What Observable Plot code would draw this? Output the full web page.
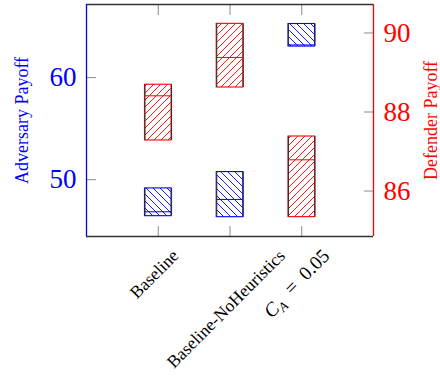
<!DOCTYPE html>
<html>
<head>
<meta charset="utf-8">
<script src="https://cdn.jsdelivr.net/npm/d3@7"></script>
<script src="https://cdn.jsdelivr.net/npm/@observablehq/plot@0.6"></script>
<style>
  html, body { margin: 0; padding: 0; background: #fff; }
  #chart svg { font-family: "Liberation Serif", "Times New Roman", serif; }
</style>
</head>
<body>
<div id="chart"></div>
<script>
// ---- data ----
const categories = ["Baseline", "Baseline-NoHeuristics", "C_A = 0.05"];
const positions = [1, 2, 3];
// Adversary payoff boxes (left axis, blue)
const advLower = [46.43, 46.33, 63.04];
const advMedian = [46.86, 48.07, 63.2];
const advUpper = [49.15, 50.75, 65.25];
// Defender payoff boxes (right axis, red)
const defLower = [87.28, 88.62, 85.34];
const defMedian = [88.41, 89.38, 86.79];
const defUpper = [88.69, 90.23, 87.38];
// axes
const advTicks = [50, 60];
const defTicks = [86, 88, 90];
const xDomain = [0, 4];
const advDomain = [44.44, 67.16];
const defDomain = [84.85, 90.72];
const advTitle = "Adversary Payoff";
const defTitle = "Defender Payoff";

// map defender values onto the adversary (left) scale
const defToAdv = d3.scaleLinear().domain(defDomain).range(advDomain);

const halfW = 0.185;
const blue = categories.map((c, i) => ({c, x: positions[i], lo: advLower[i], med: advMedian[i], hi: advUpper[i]}));
const red = categories.map((c, i) => ({c, x: positions[i], lo: defToAdv(defLower[i]), med: defToAdv(defMedian[i]), hi: defToAdv(defUpper[i])}));

const BLUE = "#0000ff", RED = "#ff0000", TICK = "#8a8a8a", DARK = "#333";

function boxes(data, color, pattern) {
  return [
    Plot.rect(data, {x1: d => d.x - halfW, x2: d => d.x + halfW, y1: "lo", y2: "hi", fill: `url(#${pattern})`, stroke: color, strokeWidth: 1.1}),
    Plot.ruleY(data, {y: "med", x1: d => d.x - halfW, x2: d => d.x + halfW, stroke: color, strokeWidth: 1}),
    Plot.ruleX(data, {x: d => d.x - halfW, y1: "lo", y2: "hi", stroke: DARK, strokeWidth: 1.1}),
    Plot.ruleX(data, {x: d => d.x + halfW, y1: "lo", y2: "hi", stroke: DARK, strokeWidth: 1.1})
  ];
}

const chart = Plot.plot({
  width: 440,
  height: 379,
  marginLeft: 86,
  marginRight: 67,
  marginTop: 4,
  marginBottom: 143,
  x: {type: "linear", domain: xDomain},
  y: {type: "linear", domain: advDomain},
  style: {fontFamily: "Liberation Serif, serif", background: "white", overflow: "visible"},
  marks: [
    // inside ticks
    Plot.axisX(positions, {anchor: "bottom", tickSize: 10, dy: -10, fill: "none", stroke: TICK, label: null}),
    Plot.axisX(positions, {anchor: "top", tickSize: 10, dy: 10, fill: "none", stroke: TICK, label: null}),
    Plot.axisY(advTicks, {anchor: "left", tickSize: 10, dx: 10, fill: "none", stroke: TICK, label: null}),
    Plot.axisY(defTicks.map(defToAdv), {anchor: "right", tickSize: 10, dx: -10, fill: "none", stroke: TICK, label: null}),
    // tick labels
    Plot.axisY(advTicks, {anchor: "left", tickSize: 0, tickPadding: 10, fontSize: 27, fill: BLUE, label: null}),
    Plot.axisY(defTicks.map(defToAdv), {anchor: "right", tickSize: 0, tickPadding: 10, fontSize: 27, fill: RED, label: null,
      tickFormat: d => d3.format("d")(Math.round(defToAdv.invert(d)))}),
    // boxes
    ...boxes(red, RED, "hatchRed"),
    ...boxes(blue, BLUE, "hatchBlue"),
    // frame
    Plot.ruleY(advDomain, {stroke: DARK, strokeWidth: 1.3}),
    Plot.ruleX([xDomain[0]], {stroke: BLUE, strokeWidth: 1.3}),
    Plot.ruleX([xDomain[1]], {stroke: RED, strokeWidth: 1.3}),
    // axis titles
    Plot.text([advTitle], {frameAnchor: "left", textAnchor: "middle", lineAnchor: "middle", rotate: -90, dx: -64, fontSize: 18, fill: BLUE}),
    Plot.text([defTitle], {frameAnchor: "right", textAnchor: "middle", lineAnchor: "middle", rotate: -90, dx: 58, fontSize: 18, fill: RED}),
    // category labels
    Plot.text(categories, {x: (d, i) => positions[i], frameAnchor: "bottom", rotate: -45, textAnchor: "middle", lineAnchor: "middle", fontSize: 17.5, fill: "#000"})
  ]
});

document.getElementById("chart").appendChild(chart);

// hatch patterns
const svg = d3.select(chart);
const defs = svg.insert("defs", ":first-child");
const p = 7;
defs.append("pattern").attr("id", "hatchBlue").attr("patternUnits", "userSpaceOnUse").attr("width", p).attr("height", p)
  .append("path").attr("d", `M0,0L${p},${p}M-1,${p-1}L1,${p+1}M${p-1},-1L${p+1},1`).attr("stroke", BLUE).attr("stroke-width", 0.9);
defs.append("pattern").attr("id", "hatchRed").attr("patternUnits", "userSpaceOnUse").attr("width", p).attr("height", p)
  .append("path").attr("d", `M0,${p}L${p},0M-1,1L1,-1M${p-1},${p+1}L${p+1},${p-1}`).attr("stroke", RED).attr("stroke-width", 0.9);

// category labels: math label and placement below the axis
const frameBottom = 379 - 143;
svg.selectAll("text").filter(function() { return categories.includes(this.textContent); }).each(function() {
  const t = d3.select(this);
  const txt = t.text();
  const tr = t.attr("transform") || "";
  const m = /translate\(\s*([-\d.e]+)[ ,]+([-\d.e]+)\s*\)/.exec(tr);
  const x = m ? +m[1] : +(t.attr("x") || 0);
  if (txt.startsWith("C_A")) {
    t.text(null).attr("font-size", 19.5);
    t.append("tspan").attr("font-style", "italic").text("C");
    t.append("tspan").attr("font-style", "italic").attr("font-size", "68%").attr("dy", "0.3em").text("A");
    t.append("tspan").attr("dy", "-0.3em").text(txt.slice(3).trim().replace(/\s*=\s*/, "\u2002=\u2002"));
  }
  const bb = this.getBBox();
  const half = (bb.width + bb.height * 0.75) * Math.SQRT1_2 / 2;
  t.attr("x", null).attr("y", null).attr("transform", `translate(${x},${frameBottom + 15 + half}) rotate(-45)`);
});
</script>
</body>
</html>
